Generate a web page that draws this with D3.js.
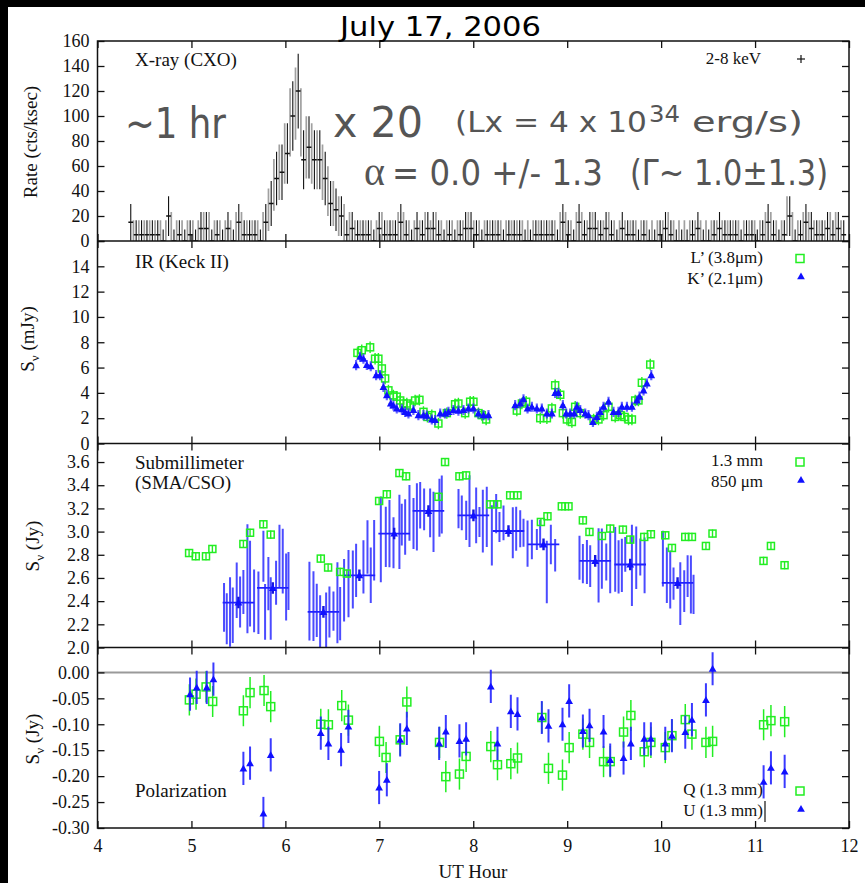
<!DOCTYPE html>
<html lang="en">
<head>
<meta charset="UTF-8">
<title>July 17, 2006 - multiwavelength flare</title>
<script src="https://cdn.jsdelivr.net/npm/d3@7"></script>
<style>
  body { margin: 0; background: #fff; }
  svg { display: block; }
</style>
</head>
<body>
<svg id="chart" width="865" height="883"></svg>
<script>
// ---- data ----
const hours = [4, 5, 6, 7, 8, 9, 10, 11, 12];
const xrayTicks = [0, 20, 40, 60, 80, 100, 120, 140, 160];
const irTicks = [0, 2, 4, 6, 8, 10, 12, 14, 16];
const subTicks = [2.0, 2.2, 2.4, 2.6, 2.8, 3.0, 3.2, 3.4, 3.6];
const polTicks = [0, -0.05, -0.10, -0.15, -0.20, -0.25, -0.30];

// X-ray light curve, 2-8 keV, regular bins
const xrayStart = 4.354, xrayBin = 0.0575;
const xrayRate = [
  15,5,5,5,5,5,0,20,0,5, 0,5,0,10,10,0,5,0,10,0,
  15,5,5,5,0,15,30,50,55,70, 100,120,65,75,65,65,50,30,25,20,
  5,10,5,5,5,0,10,5,5,5, 15,5,0,10,5,10,10,5,0,5,
  0,5,10,10,5,0,5,5,5,0, 5,5,5,0,0,5,5,5,5,0,
  15,5,0,15,5,10,10,5,10,5, 0,10,5,5,0,5,0,0,5,10,
  5,0,0,0,5,10,0,0,5,10, 5,5,5,0,5,5,0,5,15,5,
  0,5,20,0,5,15,10,5,5,10, 5,10,5
];
// offset binning (grey bars, half a bin later)
const xrayGray = [
  5,5,5,5,5,5,5,10,5,5,5,5,5,10,10,5,5,5,5,10,10,5,5,5,
  10,25,45,55,70,95,110,95,75,70,65,55,40,30,20,15,10,
  5,5,5,5,5,10,5,5,10,10, 5,5,5,10,5,10,5,5,5,5,
  5,10,5,5,5,5,5,5,5,5, 5,5,5,5,5,5,5,5,10,10,
  5,10,10,5,10,5,5,10,5,5, 5,5,5,5,5,5,5,5,10,5,
  5,5,5,5,5,5,5,5,5,5, 5,5,5,5,5,5,10,10,5,5,
  20,10,5,10,10,5,5,5,10,10,5
];
// error bar half-length for rates 0,5,10,...,120 cts/ksec
const rateErr = [9.3,11.6,13.3,14.7,15.9,17.0,18.0,19.0,19.9,20.7,21.4,22.2,22.9,
                 23.6,24.2,24.9,25.5,26.1,26.7,27.3,27.8,28.4,28.9,29.4,29.9];

// IR (Keck II)
const irLt = [6.767,6.813,6.902,6.955,6.99,7.027,7.062,7.097,7.15,7.186,7.222,7.257,7.293,7.328,7.381,
  7.427,7.47,7.512,7.559,7.629,7.719,7.807,7.842,7.914,7.967,8.002,8.055,8.091,8.137,
  8.464,8.518,8.563,8.713,8.784,8.837,8.872,8.926,8.954,8.997,9.05,9.085,9.139,9.281,9.333,
  9.387,9.44,9.511,9.565,9.61,9.653,9.689,9.724,9.759,9.795,9.884];
const irLv = [7.16,7.37,7.6,6.7,6.7,5.93,5.14,4.2,3.8,3.7,3.4,3.16,3.16,3.0,3.4,
  3.45,2.5,2.1,2.24,1.58,2.4,3.1,3.16,2.4,3.3,3.3,2.4,2.24,1.9,
  2.6,3.16,3.3,2.0,2.0,2.77,4.6,3.85,2.4,1.9,1.7,2.9,2.4,1.9,1.9,
  2.24,2.9,2.1,2.24,2.1,1.9,1.9,3.4,3.4,4.8,6.24];
const irKt = [6.753,6.795,6.831,6.867,6.909,6.966,7.008,7.044,7.080,7.122,7.150,7.186,7.240,7.275,7.310,
  7.363,7.416,7.470,7.506,7.559,7.594,7.648,7.70,7.736,7.789,7.842,7.896,7.949,8.002,8.055,8.109,8.162,
  8.446,8.50,8.535,8.578,8.624,8.677,8.730,8.784,8.837,8.872,8.907,8.954,8.989,9.032,9.075,9.103,9.139,
  9.192,9.227,9.274,9.316,9.351,9.387,9.440,9.493,9.546,9.582,9.636,9.689,9.742,9.770,9.813,9.849,9.895];
const irKv = [6.19,6.85,6.7,6.2,6.1,5.4,5.4,4.47,3.82,3.16,3.0,2.77,2.7,2.5,2.38,
  2.65,2.24,2.24,2.2,1.9,1.85,2.37,2.37,2.5,2.65,2.6,2.65,2.77,2.77,2.37,2.24,2.24,
  3.03,3.16,3.5,2.77,2.9,2.77,2.77,2.37,2.37,4.0,4.0,3.03,2.37,2.37,2.37,2.9,2.65,
  2.37,2.24,1.7,2.1,2.5,2.9,3.3,2.5,2.5,2.9,2.9,2.9,3.4,3.7,4.2,4.74,5.4];
const irErrL = 0.45, irErrK = 0.4;

// Submillimeter 1.3 mm (SMA)
const smaT = [4.975,5.046,5.155,5.223,5.553,5.624,5.766,5.844,6.377,6.455,6.583,6.654,6.998,7.08,7.214,
  7.285,7.63,7.70,7.853,7.924,8.18,8.258,8.393,8.471,8.72,8.79,8.943,9.014,9.167,9.237,
  9.37,9.458,9.593,9.671,9.82,9.891,10.044,10.115,10.257,10.328,10.477,10.547,11.09,11.169,11.314];
const smaV = [2.815,2.787,2.787,2.85,2.893,2.99,3.063,2.974,2.767,2.69,2.652,2.638,3.264,3.322,3.505,
  3.477,3.30,3.6,3.477,3.485,3.235,3.235,3.313,3.313,3.083,3.132,3.218,3.218,3.097,2.997,
  2.962,3.026,3.017,2.931,2.954,2.977,2.968,2.859,2.954,2.954,2.876,2.983,2.747,2.876,2.71];
const smaErr = 0.035;

// 850 um (CSO): binned points and the individual measurements [hour, Jy, error]
const csoBinT = [5.5,5.866,6.405,6.788,7.158,7.523,8.002,8.375,8.748,9.298,9.671,10.175];
const csoBinV = [2.388,2.514,2.307,2.623,2.983,3.178,3.14,3.005,2.89,2.747,2.716,2.557];
const csoHalfBin = 0.168, csoBinErr = 0.05;
const csoPoints = [
  [5.347,2.346,0.21],[5.376,2.249,0.22],[5.411,2.307,0.30],[5.440,2.278,0.24],[5.482,2.494,0.24],
  [5.518,2.393,0.22],[5.553,2.479,0.19],[5.596,2.594,0.47],[5.624,2.551,0.37],[5.667,2.402,0.27],
  [5.713,2.386,0.27],[5.766,2.788,0.22],[5.784,2.307,0.24],[5.819,2.551,0.23],[5.844,2.336,0.27],
  [5.901,2.558,0.19],[5.937,2.788,0.27],[5.972,2.745,0.28],[6.008,2.522,0.29],[6.033,2.573,0.25],
  [6.256,2.4,0.34],[6.299,2.357,0.30],[6.334,2.321,0.23],[6.37,2.221,0.23],[6.434,2.235,0.24],
  [6.469,2.307,0.22],[6.512,2.314,0.17],[6.554,2.386,0.35],[6.583,2.292,0.23],
  [6.625,2.494,0.27],[6.672,2.551,0.29],[6.718,2.587,0.25],[6.753,2.666,0.23],[6.831,2.695,0.23],
  [6.874,2.867,0.23],[6.909,2.623,0.24],[6.945,2.839,0.26],
  [7.016,2.932,0.37],[7.069,2.954,0.26],[7.108,2.982,0.29],[7.151,2.903,0.22],[7.214,2.997,0.32],
  [7.239,3.061,0.18],[7.275,3.04,0.24],[7.321,3.162,0.24],
  [7.364,3.069,0.22],[7.4,3.126,0.29],[7.435,3.227,0.2],[7.477,3.191,0.18],[7.541,3.162,0.21],
  [7.577,3.083,0.26],[7.64,3.205,0.25],[7.665,3.234,0.25],
  [7.843,3.198,0.17],[7.878,3.162,0.15],[7.925,3.097,0.17],[7.96,3.176,0.31],[8.031,3.14,0.24],
  [8.066,3.083,0.13],[8.102,3.09,0.27],[8.144,3.126,0.26],
  [8.198,2.968,0.26],[8.244,3.155,0.17],[8.279,3.04,0.13],[8.322,3.076,0.15],[8.421,2.99,0.22],
  [8.457,3.025,0.19],[8.5,3.025,0.16],[8.535,2.99,0.12],
  [8.578,2.896,0.2],[8.624,2.932,0.17],[8.677,2.932,0.09],[8.712,2.982,0.12],[8.783,2.652,0.27],
  [8.826,2.889,0.17],[8.872,2.796,0.14],
  [9.131,2.774,0.19],[9.167,2.724,0.17],[9.21,2.738,0.19],[9.245,2.702,0.18],[9.334,2.709,0.32],
  [9.369,2.767,0.26],[9.416,2.738,0.16],[9.458,2.738,0.27],
  [9.511,2.76,0.28],[9.547,2.695,0.23],[9.582,2.709,0.23],[9.618,2.803,0.15],[9.689,2.709,0.35],
  [9.735,2.774,0.27],[9.778,2.781,0.16],[9.824,2.709,0.24],
  [10.019,2.767,0.24],[10.061,2.623,0.24],[10.097,2.587,0.25],[10.132,2.551,0.14],[10.204,2.465,0.27],
  [10.246,2.487,0.18],[10.282,2.616,0.18],[10.317,2.544,0.25],[10.345,2.458,0.17]
];

// Polarization, 1.3 mm
const polQt = [4.978,5.049,5.156,5.226,5.553,5.624,5.773,5.844,6.377,6.458,6.6,6.671,7.001,7.072,7.222,
  7.293,7.641,7.708,7.853,7.924,8.187,8.258,8.4,8.471,8.73,8.801,8.95,9.021,9.167,9.238,
  9.387,9.458,9.6,9.678,9.82,9.891,10.044,10.115,10.257,10.328,10.477,10.548,11.091,11.169,11.315];
const polQv = [-0.053,-0.042,-0.028,-0.056,-0.074,-0.039,-0.035,-0.066,-0.1,-0.101,-0.064,-0.092,-0.133,-0.164,-0.13,
  -0.057,-0.135,-0.201,-0.196,-0.162,-0.143,-0.178,-0.176,-0.165,-0.087,-0.185,-0.198,-0.145,-0.119,-0.135,
  -0.172,-0.172,-0.115,-0.083,-0.153,-0.135,-0.145,-0.122,-0.091,-0.119,-0.135,-0.133,-0.101,-0.093,-0.095];
const polUt = [4.985,5.056,5.163,5.234,5.553,5.624,5.766,5.844,6.377,6.458,6.593,6.671,6.998,7.08,7.222,
  7.293,7.637,7.708,7.853,7.924,8.187,8.258,8.4,8.471,8.73,8.801,8.95,9.021,9.167,9.238,
  9.387,9.458,9.6,9.678,9.82,9.891,10.044,10.115,10.257,10.328,10.477,10.548,11.091,11.169,11.315];
const polUv = [-0.042,-0.029,-0.029,-0.013,-0.185,-0.175,-0.272,-0.159,-0.117,-0.137,-0.149,-0.104,-0.222,-0.207,-0.13,
  -0.108,-0.137,-0.114,-0.132,-0.128,-0.027,-0.137,-0.075,-0.08,-0.087,-0.103,-0.1,-0.055,-0.113,-0.102,
  -0.114,-0.169,-0.165,-0.137,-0.128,-0.128,-0.137,-0.122,-0.115,-0.091,-0.053,0.007,-0.211,-0.184,-0.191];
const polErrQ = 0.03, polErrU = 0.032;

// ---- drawing ----
const W = 865, H = 883;
const SERIF = '"Liberation Serif", "DejaVu Serif", serif';
const SANS = '"DejaVu Sans", "Open Sans", sans-serif';
const GREEN = "#22ee22", BLUE = "#1010ff";

const svg = d3.select("#chart");
svg.append("rect").attr("width", W).attr("height", H).attr("fill", "#fff");
svg.append("rect").attr("width", W).attr("height", 7).attr("fill", "#000");
svg.append("rect").attr("width", 8).attr("height", H).attr("fill", "#000");

const x = d3.scaleLinear().domain([4, 12]).range([97.5, 849]);
const yX = d3.scaleLinear().domain([0, 160]).range([241, 41]);
const yIR = d3.scaleLinear().domain([0, 16]).range([443.5, 241]);
const ySub = d3.scaleLinear().domain([2.0, 3.76]).range([647.5, 443.5]);
const yPol = d3.scaleLinear().domain([-0.30, 0.048]).range([828, 647.5]);

const defs = svg.append("defs");
function clipFor(id, y) {
  const [b, t] = y.range();
  defs.append("clipPath").attr("id", id).append("rect")
    .attr("x", x(4)).attr("y", t).attr("width", x(12) - x(4)).attr("height", b - t);
  return svg.append("g").attr("clip-path", `url(#${id})`);
}

function axes(y, ticks, fmt, showX) {
  const [b, t] = y.range();
  const g = svg.append("g");
  g.append("g").attr("transform", `translate(${x(4)},0)`)
    .call(d3.axisLeft(y).tickValues(ticks).tickFormat(fmt).tickSizeInner(-7).tickSizeOuter(0).tickPadding(8))
    .attr("font-family", SERIF).attr("font-size", 18);
  g.append("g").attr("transform", `translate(${x(12)},0)`)
    .call(d3.axisRight(y).tickValues(ticks).tickFormat("").tickSizeInner(-7).tickSizeOuter(0));
  g.append("g").attr("transform", `translate(0,${t})`)
    .call(d3.axisTop(x).tickValues(hours).tickFormat("").tickSizeInner(-7).tickSizeOuter(0));
  g.append("g").attr("transform", `translate(0,${b})`)
    .call(d3.axisBottom(x).tickValues(hours).tickFormat(showX ? d3.format("d") : "")
      .tickSizeInner(-7).tickSizeOuter(0).tickPadding(11))
    .attr("font-family", SERIF).attr("font-size", 18);
  g.selectAll(".domain").remove();
  g.selectAll(".tick line").attr("stroke", "#111").attr("stroke-width", 1.3);
  g.selectAll(".tick text").attr("fill", "#111");
}

// data items are {t, v, e}
function vbars(g, data, y, color, w, op) {
  g.append("g").selectAll("line").data(data).join("line")
    .attr("x1", d => x(d.t)).attr("x2", d => x(d.t))
    .attr("y1", d => y(d.v - d.e)).attr("y2", d => y(d.v + d.e))
    .attr("stroke", color).attr("stroke-width", w).attr("stroke-opacity", op);
}
function hticks(g, data, y, half, color, w, op) {
  g.append("g").selectAll("line").data(data).join("line")
    .attr("x1", d => x(d.t) - half).attr("x2", d => x(d.t) + half)
    .attr("y1", d => y(d.v)).attr("y2", d => y(d.v))
    .attr("stroke", color).attr("stroke-width", w).attr("stroke-opacity", op);
}
function squares(g, data, y, s) {
  g.append("g").selectAll("rect").data(data).join("rect")
    .attr("x", d => x(d.t) - s / 2).attr("y", d => y(d.v) - s / 2)
    .attr("width", s).attr("height", s)
    .attr("fill", "none").attr("stroke", GREEN).attr("stroke-width", 1.5);
}
const tri = d3.symbol(d3.symbolTriangle).size(26);
function triangles(g, data, y) {
  g.append("g").selectAll("path").data(data).join("path")
    .attr("d", tri).attr("fill", BLUE)
    .attr("transform", d => `translate(${x(d.t)},${y(d.v) + 0.8})`);
}
const zip = (ts, vs, e) => ts.map((t, i) => ({ t, v: vs[i], e }));

// --- panel 1: X-ray ---
{
  const g = clipFor("cx", yX);
  const gray = xrayGray.map((v, j) => ({ t: xrayStart + (j + 0.5) * xrayBin, v, e: rateErr[v / 5] }));
  const blk = xrayRate.map((v, i) => ({ t: xrayStart + i * xrayBin, v, e: rateErr[v / 5] }));
  vbars(g, gray, yX, "#a0a0a0", 1.7, 1);
  vbars(g, blk, yX, "#111", 1.1, 1);
  hticks(g, blk, yX, 2.4, "#111", 1.3, 1);
}

// --- panel 2: IR ---
{
  const g = clipFor("ci", yIR);
  const L = zip(irLt, irLv, irErrL);
  const K = zip(irKt, irKv, irErrK);
  vbars(g, L, yIR, GREEN, 1.4, 1);
  squares(g, L, yIR, 7);
  vbars(g, K, yIR, "#3030ff", 2.2, 0.75);
  hticks(g, K, yIR, 2.2, "#3030ff", 1.6, 0.8);
  triangles(g, K, yIR);
}

// --- panel 3: submillimeter ---
{
  const g = clipFor("cs", ySub);
  vbars(g, csoPoints.map(p => ({ t: p[0], v: p[1], e: p[2] })), ySub, "#2b2bff", 2, 0.85);
  const bins = zip(csoBinT, csoBinV, csoBinErr);
  g.append("g").selectAll("line").data(bins).join("line")
    .attr("x1", d => x(d.t - csoHalfBin)).attr("x2", d => x(d.t + csoHalfBin))
    .attr("y1", d => ySub(d.v)).attr("y2", d => ySub(d.v))
    .attr("stroke", "#2020ff").attr("stroke-width", 1.8);
  vbars(g, bins, ySub, "#1515dd", 2.4, 1);
  triangles(g, bins, ySub);
  const S = zip(smaT, smaV, smaErr);
  vbars(g, S, ySub, GREEN, 1.4, 1);
  squares(g, S, ySub, 7);
}

// --- panel 4: polarization ---
{
  const g = clipFor("cp", yPol);
  g.append("line").attr("x1", x(4)).attr("x2", x(12)).attr("y1", yPol(0)).attr("y2", yPol(0))
    .attr("stroke", "#9a9a9a").attr("stroke-width", 2);
  const Q = zip(polQt, polQv, polErrQ);
  const U = zip(polUt, polUv, polErrU);
  vbars(g, Q, yPol, GREEN, 1.5, 1);
  squares(g, Q, yPol, 8);
  vbars(g, U, yPol, "#2525ff", 2, 0.9);
  triangles(g, U, yPol);
}

// axes and frame
axes(yX, xrayTicks, d3.format("d"), false);
axes(yIR, irTicks, d => (d === 16 ? "" : d), false);
axes(ySub, subTicks, d3.format(".1f"), false);
axes(yPol, polTicks, d => d.toFixed(2), true);
svg.append("rect").attr("x", x(4)).attr("y", yX.range()[1])
  .attr("width", x(12) - x(4)).attr("height", yPol.range()[0] - yX.range()[1])
  .attr("fill", "none").attr("stroke", "#111").attr("stroke-width", 1.5);
[yX.range()[0], yIR.range()[0], ySub.range()[0]].forEach(yy =>
  svg.append("line").attr("x1", x(4)).attr("x2", x(12)).attr("y1", yy).attr("y2", yy)
    .attr("stroke", "#111").attr("stroke-width", 1.5));

// texts
function txt(xp, yp, s, opt = {}) {
  return svg.append("text").attr("x", xp).attr("y", yp).text(s)
    .attr("font-family", opt.font || SERIF).attr("font-size", opt.size || 19)
    .attr("fill", opt.fill || "#111").attr("text-anchor", opt.anchor || "start");
}
const LEG = { anchor: "end", size: 17 };
txt(135, 66, "X-ray (CXO)");
txt(761, 64, "2-8 keV", LEG);
txt(135, 268, "IR (Keck II)");
txt(763, 263, "L\u2019 (3.8\u03bcm)", LEG);
txt(763, 284, "K\u2019 (2.1\u03bcm)", LEG);
txt(135, 469, "Submillimeter");
txt(135, 489, "(SMA/CSO)");
txt(763, 466, "1.3 mm", LEG);
txt(763, 487, "850 \u03bcm", LEG);
txt(135, 797, "Polarization");
txt(763, 795, "Q (1.3 mm)", LEG);
txt(763, 816, "U (1.3 mm)", LEG);
svg.append("line").attr("x1", 765).attr("x2", 765).attr("y1", 801).attr("y2", 822)
  .attr("stroke", "#111").attr("stroke-width", 1.2);
txt(473, 878, "UT Hour", { anchor: "middle" });

// legend keys
svg.append("line").attr("x1", 797).attr("x2", 805).attr("y1", 59).attr("y2", 59).attr("stroke", "#111").attr("stroke-width", 1.2);
svg.append("line").attr("x1", 801).attr("x2", 801).attr("y1", 55).attr("y2", 63).attr("stroke", "#111").attr("stroke-width", 1.2);
[[258.5, 277], [462, 480.5], [791, 809.5]].forEach(([ys, yt]) => {
  svg.append("rect").attr("x", 796).attr("y", ys - 4).attr("width", 8).attr("height", 8)
    .attr("fill", "none").attr("stroke", GREEN).attr("stroke-width", 1.5);
  svg.append("path").attr("d", tri).attr("fill", BLUE).attr("transform", `translate(801,${yt})`);
});

// y labels
function ylab(xp, yp, unit) {
  const t = svg.append("text").attr("transform", `translate(${xp},${yp}) rotate(-90)`)
    .attr("text-anchor", "middle").attr("font-family", SERIF).attr("font-size", 19).attr("fill", "#111");
  if (unit === null) return t;
  t.append("tspan").text("S");
  t.append("tspan").attr("dy", 5).attr("font-size", 13).text("\u03bd");
  t.append("tspan").attr("dy", -5).text(" " + unit);
  return t;
}
ylab(37, 142, null).text("Rate (cts/ksec)");
ylab(34, 339, "(mJy)");
ylab(39, 546, "(Jy)");
ylab(39, 739, "(Jy)");

// title and big annotations
txt(340, 36, "July 17, 2006", { font: SANS, size: 27, fill: "#000" })
  .attr("textLength", 201).attr("lengthAdjust", "spacingAndGlyphs");
const ANN = "#555";
function ann(xp, yp, s, size, w, font) {
  return txt(xp, yp, s, { font: font || SANS, size, fill: ANN })
    .attr("textLength", w).attr("lengthAdjust", "spacingAndGlyphs");
}
ann(125, 138, "~1 hr", 42, 101);
ann(333, 137, "x 20", 42, 90);
ann(455, 132, "(Lx = 4 x 10", 29, 192);
ann(649, 122, "34", 23, 31);
ann(692, 132, "erg/s)", 29, 111);
txt(364, 185, "\u03b1", { font: SERIF, size: 40, fill: ANN });
ann(392, 185, "= 0.0 +/- 1.3", 36, 211);
ann(630, 185, "(\u0393~ 1.0\u00b11.3)", 36, 198);
</script>
</body>
</html>
